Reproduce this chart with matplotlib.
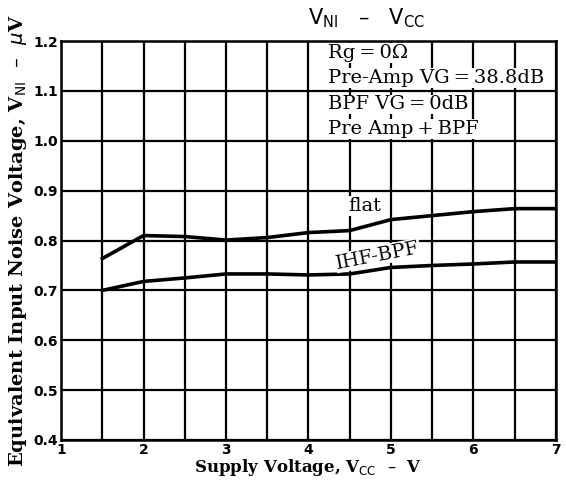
import matplotlib
matplotlib.use("Agg")
import matplotlib.pyplot as plt
import numpy as np

# Data
vcc = [1.5, 2.0, 2.5, 3.0, 3.5, 4.0, 4.5, 5.0, 5.5, 6.0, 6.5, 7.0]
flat = [0.764, 0.810, 0.808, 0.801, 0.806, 0.816, 0.820, 0.842, 0.850, 0.858, 0.864, 0.864]
ihf_bpf = [0.700, 0.718, 0.725, 0.733, 0.733, 0.731, 0.733, 0.746, 0.750, 0.753, 0.757, 0.757]
x_ticks = [1, 2, 3, 4, 5, 6, 7]
y_ticks = [0.4, 0.5, 0.6, 0.7, 0.8, 0.9, 1.0, 1.1, 1.2]
y_tick_labels = ["0.4", "0.5", "0.6", "0.7", "0.8", "0.9", "1.0", "1.1", "1.2"]
cond_lines = ["Rg\u2009=\u20090Ω", "Pre-Amp VG\u2009=\u200938.8dB", "BPF VG\u2009=\u20090dB",
              "Pre Amp\u2009+\u2009BPF"]

fig = plt.figure(figsize=(5.66, 4.84), dpi=100)
ax = fig.add_axes([0.108, 0.091, 0.874, 0.824])
ax.set_xlim(1, 7)
ax.set_ylim(0.4, 1.2)

# grid
ax.set_xticks(np.arange(1, 7.01, 0.5), minor=True)
ax.set_xticks(x_ticks)
ax.set_yticks(y_ticks)
ax.set_yticklabels(y_tick_labels)
ax.grid(True, which="both", color="black", linewidth=1.6, zorder=1)
ax.tick_params(which="both", length=0, pad=2)
for lbl in ax.get_xticklabels() + ax.get_yticklabels():
    lbl.set_fontweight("bold")
    lbl.set_fontsize(10)
    lbl.set_family("DejaVu Sans")
for sp in ax.spines.values():
    sp.set_linewidth(1.8)
    sp.set_zorder(5)

ax.plot(vcc, flat, color="black", linewidth=2.6, zorder=4)
ax.plot(vcc, ihf_bpf, color="black", linewidth=2.6, zorder=4)

serif = "DejaVu Serif"
ax.text(4.68, 0.869, "flat", fontsize=14, family=serif, ha="center", va="center",
        zorder=6, bbox=dict(facecolor="white", edgecolor="none", pad=0.5))
ax.text(4.84, 0.770, "IHF-BPF", fontsize=14, family=serif, ha="center", va="center",
        rotation=11, zorder=6, bbox=dict(facecolor="white", edgecolor="none", pad=0.5))

ys = [1.176, 1.126, 1.073, 1.024]
for t, yv in zip(cond_lines, ys):
    ax.text(4.24, yv, t, fontsize=14, family=serif, ha="left", va="center", zorder=6,
            bbox=dict(facecolor="white", edgecolor="none", pad=0.6))

fig.text(0.648, 0.962, r"V$_{\rm NI}$   –   V$_{\rm CC}$", fontsize=15, ha="center",
         va="center", family="DejaVu Sans")

ax.set_xlabel(r"Supply Voltage, V$_{\rm CC}$  –  V", fontsize=12, family=serif,
              fontweight="bold", labelpad=0)
ax.set_ylabel(r"Equivalent Input Noise Voltage, V$_{\rm NI}$  –  $\mu$V", fontsize=14,
              family=serif, fontweight="bold", labelpad=3)

fig.savefig("out.png", dpi=100)
